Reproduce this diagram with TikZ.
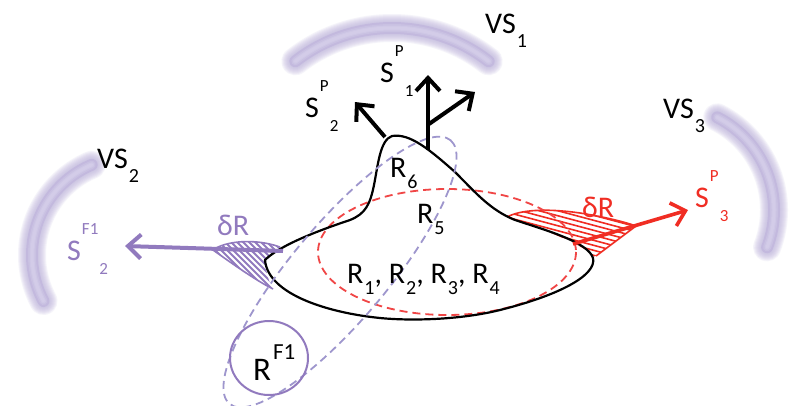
\documentclass[tikz,border=0pt]{standalone}
\usepackage{fontspec}
\setmainfont{Carlito}
\usetikzlibrary{arrows.meta}
\definecolor{vsglow}{RGB}{190,180,220}
\definecolor{vscore}{RGB}{212,205,233}
\definecolor{fpurple}{RGB}{145,122,190}
\definecolor{dpurple}{RGB}{158,150,205}
\definecolor{pred}{RGB}{240,45,35}
\definecolor{dred}{RGB}{240,70,70}
\newcommand\mainfs{\fontsize{30}{30}\selectfont}
\newcommand\subfs{\fontsize{20}{20}\selectfont}
\newcommand\smfs{\fontsize{17}{17}\selectfont}
\newcommand\SPlbl[3]{#1\kern1pt\raisebox{26pt}{\smfs #2}\kern1pt\raisebox{-14pt}{\smfs #3}}
\newcommand\SubLbl[2]{#1\kern1pt\raisebox{-14pt}{\subfs #2}}
\newcommand\RSub[1]{R\kern1pt\raisebox{-11pt}{\subfs #1}}
\newcommand\glowarc[5]{%
  \foreach \w in {28,26,...,14}{
    \draw[line cap=round, line width=\w pt, draw=vsglow, opacity=0.14]
      ([shift={(#4:#3)}]#1,#2) arc[start angle=#4, end angle=#5, radius=#3];
  }
  \draw[line cap=round, line width=12pt, draw=vsglow, opacity=0.7]
      ([shift={(#4:#3)}]#1,#2) arc[start angle=#4, end angle=#5, radius=#3];
  \foreach \w/\o in {8/0.4,5/0.6,3/0.8}{
    \draw[line cap=round, line width=\w pt, draw=vscore, opacity=\o]
      ([shift={(#4:#3)}]#1,#2) arc[start angle=#4, end angle=#5, radius=#3];
  }
}
\tikzset{
  lbl/.style={inner sep=0pt, anchor=base west, font=\mainfs},
  blob/.style={draw=black, line width=2.2pt, line join=round},
  pdash/.style={draw=dpurple, line width=1.8pt, dash pattern=on 8pt off 5pt},
  rdash/.style={draw=dred, line width=1.8pt, dash pattern=on 8pt off 5pt},
  barrow/.style={line width=4pt, -{Straight Barb[length=13pt, width=24pt]}},
}
\begin{document}
\begin{tikzpicture}[x=1pt, y=-1pt]
\useasboundingbox (0,0) rectangle (792,405);
\fill[white] (0,0) rectangle (792,405);

% viewing sphere arcs
\glowarc{392}{185}{157}{-128}{-52}
\glowarc{130}{255}{98}{-113}{-208}
\glowarc{670}{210}{104}{-63}{21}

% purple hatch region
\begin{scope}
  \clip (213,250) .. controls (225,241) and (255,238) .. (280,247) -- (265,260)
        .. controls (266,272) and (268,280) .. (273,289)
        .. controls (255,280) and (230,262) .. (213,250) -- cycle;
  \foreach \i in {-66,-60,...,66}
    \draw[fpurple, line width=2pt] (213+\i,230) -- ++(70,70);
\end{scope}
\draw[fpurple, line width=1.6pt] (213,250) .. controls (225,241) and (255,238) .. (280,247);
\draw[fpurple, line width=1.6pt] (273,289) .. controls (255,280) and (230,262) .. (213,250);

% red hatch region
\begin{scope}
  \clip (507,217) .. controls (520,210) and (545,208) .. (580,213)
        .. controls (605,217) and (625,222) .. (636,226) -- (594,257)
        .. controls (585,245) and (545,230) .. (507,217) -- cycle;
  \foreach \i in {160,165,...,260}
    \draw[pred, line width=1.6pt] (480,\i) -- ++(180,48);
\end{scope}
\draw[pred, line width=1.6pt] (507,217) .. controls (520,210) and (545,208) .. (580,213)
        .. controls (605,217) and (625,222) .. (636,226) -- (596,256);

% red dashed ellipse
\draw[rdash] (447,252) ellipse [x radius=129, y radius=63];

% main blob
\draw[blob] (265,260) .. controls (280,245) and (320,230) .. (350,220)
  .. controls (365,214) and (370,205) .. (374,185)
  .. controls (378,165) and (380,140) .. (392,136)
  .. controls (410,133) and (430,150) .. (455,172)
  .. controls (475,192) and (490,210) .. (515,220)
  .. controls (545,230) and (588,242) .. (593,258)
  .. controls (597,275) and (560,295) .. (500,310)
  .. controls (460,320) and (410,321) .. (380,318)
  .. controls (330,313) and (268,295) .. (265,260) -- cycle;

% purple dashed ellipse
\draw[pdash, rotate around={50:(340,272)}] (340,272) ellipse [x radius=172, y radius=48];

% R^F1 circle
\coordinate (rf1c) at (269,358);
\draw[fpurple, line width=2pt] (rf1c) ellipse [x radius=39, y radius=37];

% arrows
\coordinate (p2s) at (385,137); \coordinate (p2e) at (355,102);
\coordinate (p1s) at (428,150); \coordinate (p1e) at (428,75);
\coordinate (p4s) at (429,124); \coordinate (p4e) at (475,92);
\coordinate (f2s) at (283,251); \coordinate (f2e) at (125,246);
\coordinate (p3s) at (573,244); \coordinate (p3e) at (688,210);
\draw[barrow, black] (p2s) -- (p2e);
\draw[barrow, black] (p1s) -- (p1e);
\draw[barrow, black] (p4s) -- (p4e);
\draw[barrow, fpurple] (f2s) -- (f2e);
\draw[barrow, pred, line width=3.6pt] (p3s) -- (p3e);

% labels
\node[lbl] (vs1) at (485,33) {\SubLbl{VS}{1}};
\node[lbl] (vs2) at (97,168) {\SubLbl{VS}{2}};
\node[lbl] (vs3) at (663,118) {\SubLbl{VS}{3}};
\node[lbl] (sp1) at (380,82) {\SPlbl{S}{P}{1}};
\node[lbl] (sp2) at (305,117) {\SPlbl{S}{P}{2}};
\node[lbl, text=pred] (sp3) at (695,207) {\SPlbl{S}{P}{3}};
\node[lbl, text=fpurple] (sf2) at (67,260) {\SPlbl{S}{F1}{2}};
\node[lbl, text=fpurple] (dr1) at (217,235) {δR};
\node[lbl, text=pred] (dr2) at (582,217) {δR};
\node[lbl] (r6) at (390,177) {\RSub{6}};
\node[lbl] (r5) at (417,223) {\RSub{5}};
\node[lbl] (r14) at (347,283) {\RSub{1}, \RSub{2}, \RSub{3}, \RSub{4}};
\node[lbl, font=\fontsize{33}{33}\selectfont] (rf1) at (253,380) {R\kern2pt\raisebox{21pt}{\fontsize{23}{23}\selectfont F1}};
\end{tikzpicture}
\end{document}
